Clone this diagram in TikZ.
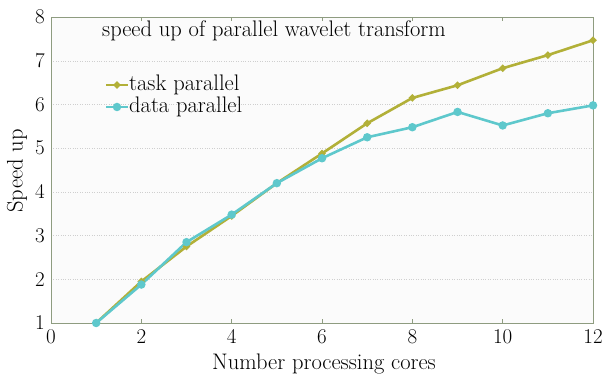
\documentclass[tikz,border=0pt]{standalone}
\usetikzlibrary{shapes.geometric,calc}
\definecolor{axisc}{HTML}{8E9C80}
\definecolor{taskc}{HTML}{B2B038}
\definecolor{datac}{HTML}{5EC8CC}
\definecolor{gridc}{HTML}{CFCFCF}
\definecolor{bgc}{HTML}{FBFBFB}
\tikzset{
  lbl/.style={font=\fontsize{22.5}{24}\selectfont, inner sep=0pt},
  numlbl/.style={font=\fontsize{21}{23}\selectfont, inner sep=0pt},
  taskline/.style={taskc, line width=2.6pt, line join=round},
  dataline/.style={datac, line width=2.6pt, line join=round},
  taskmark/.style={fill=taskc, draw=none, diamond, minimum size=8pt, inner sep=0pt},
  datamark/.style={fill=datac, draw=none, circle, minimum size=8.5pt, inner sep=0pt},
}
\begin{document}
\begin{tikzpicture}
\useasboundingbox (0,0) rectangle (603pt,375pt);
\fill[white] (0,0) rectangle (603pt,375pt);
\begin{scope}[shift={(51pt,8.3pt)}, x=45.17pt, y=43.7pt]
  \fill[bgc] (0,1) rectangle (12,8);
  % grid
  \foreach \yy in {2,...,7}
    \draw[gridc, dotted, line width=0.4pt] (0,\yy) -- (12,\yy);
  % frame
  \draw[axisc, line width=0.8pt] (0,1) rectangle (12,8);
  % ticks
  \foreach \xx in {2,4,...,10} {
    \draw[axisc, line width=0.6pt] (\xx,1) -- ++(0,4pt);
    \draw[axisc, line width=0.6pt] (\xx,8) -- ++(0,-4pt);
  }
  % tick labels
  \foreach \xx in {0,2,...,12}
    \node[numlbl, anchor=base] (xt\xx) at ([yshift=-21pt]\xx,1) {\xx};
  \foreach \yy in {1,...,8}
    \node[numlbl, anchor=east] (yt\yy) at ([xshift=-6pt]0,\yy) {\yy};
  % data
  \draw[taskline] (1,1) -- (2,1.95) -- (3,2.75) -- (4,3.45) -- (5,4.2) -- (6,4.88)
    -- (7,5.57) -- (8,6.15) -- (9,6.44) -- (10,6.83) -- (11,7.13) -- (12,7.47);
  \draw[dataline] (1,1) -- (2,1.88) -- (3,2.85) -- (4,3.48) -- (5,4.2) -- (6,4.77)
    -- (7,5.25) -- (8,5.48) -- (9,5.83) -- (10,5.52) -- (11,5.8) -- (12,5.98);
  \foreach \xx/\yy in {1/1,2/1.95,3/2.75,4/3.45,5/4.2,6/4.88,7/5.57,8/6.15,9/6.44,10/6.83,11/7.13,12/7.47}
    \node[taskmark] at (\xx,\yy) {};
  \foreach \xx/\yy in {1/1,2/1.88,3/2.85,4/3.48,5/4.2,6/4.77,7/5.25,8/5.48,9/5.83,10/5.52,11/5.8,12/5.98}
    \node[datamark] at (\xx,\yy) {};
\end{scope}
% title
\node[lbl] (title) at (274pt,344pt) {speed up of parallel wavelet transform};
% legend
\coordinate (l1a) at (106pt,290pt);
\coordinate (l1b) at (128pt,290pt);
\coordinate (l2a) at (106pt,268pt);
\coordinate (l2b) at (128pt,268pt);
\draw[taskline] (l1a) -- (l1b);
\node[taskmark] at ($(l1a)!0.5!(l1b)$) {};
\draw[dataline] (l2a) -- (l2b);
\node[datamark] at ($(l2a)!0.5!(l2b)$) {};
\node[lbl, anchor=west] (leg1) at (129pt,290pt) {task parallel};
\node[lbl, anchor=west] (leg2) at (129pt,268pt) {data parallel};
% axis labels
\node[lbl] (xlab) at (324pt,11pt) {Number processing cores};
\node[lbl, rotate=90] (ylab) at (17pt,204pt) {Speed up};
\end{tikzpicture}
\end{document}
